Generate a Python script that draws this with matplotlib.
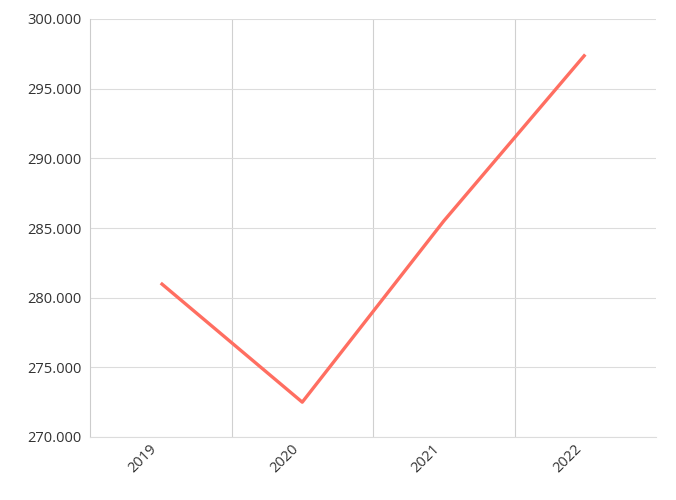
import matplotlib.pyplot as plt
import matplotlib.transforms as mtransforms
from matplotlib.ticker import FuncFormatter, FixedLocator

years = ["2019", "2020", "2021", "2022"]
values = [281050, 272500, 285500, 297450]

plt.rcParams['font.family'] = ['Open Sans', 'DejaVu Sans']

fig = plt.figure(figsize=(6.76, 5.0), dpi=100)
ax = fig.add_axes([90 / 676, 1 - 437 / 500, 566 / 676, 418 / 500])

x = list(range(len(years)))
ax.plot(x, values, color="#FF6E61", linewidth=2.4, solid_capstyle="butt", zorder=3)

ax.set_xlim(-0.5, len(years) - 0.5)
ax.set_ylim(270000, 300000)
ax.set_yticks(range(270000, 300001, 5000))
ax.yaxis.set_major_formatter(FuncFormatter(lambda v, p: f"{v:,.0f}".replace(",", ".")))

ax.set_xticks(x)
ax.set_xticklabels([])
ax.xaxis.set_minor_locator(FixedLocator([i + 0.5 for i in range(len(years) - 1)]))

# rotated year labels, sitting a little left of the band centre like the original
offset = mtransforms.ScaledTranslation(-6 / 100, -10 / 100, fig.dpi_scale_trans)
for xi, yr in zip(x, years):
    ax.text(xi, 0, yr, transform=ax.get_xaxis_transform() + offset,
            rotation=45, ha="right", va="center", rotation_mode="anchor",
            fontsize=10.5, color="#333333")

ax.grid(axis="y", which="major", color="#dcdcdc", linewidth=0.8)
ax.grid(axis="x", which="minor", color="#d0d0d0", linewidth=0.8)
ax.set_axisbelow(True)

ax.tick_params(axis="both", which="both", length=0, labelsize=10.5, labelcolor="#333333")
ax.tick_params(axis="y", pad=6)

for s in ["top", "right"]:
    ax.spines[s].set_visible(False)
ax.spines["left"].set_color("#cccccc")
ax.spines["bottom"].set_color("#dcdcdc")
ax.spines["left"].set_linewidth(0.8)
ax.spines["bottom"].set_linewidth(0.8)

fig.savefig("out.png", dpi=100)
